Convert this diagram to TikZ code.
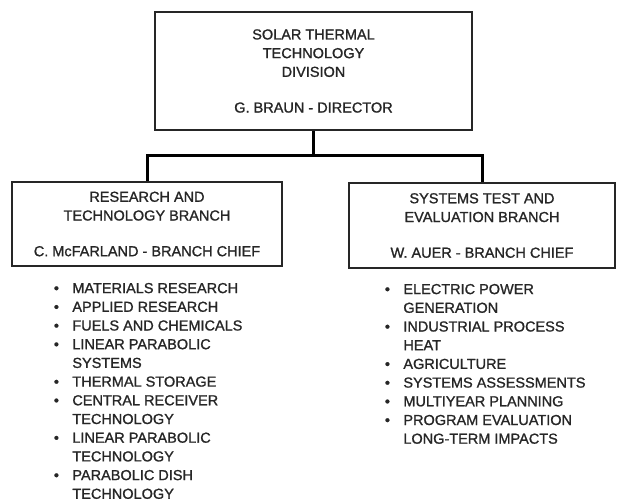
\documentclass[tikz,border=0pt]{standalone}
\usepackage{fontspec}
\setmainfont{Liberation Sans}[FakeBold=1.2]
\usetikzlibrary{positioning}
\newcommand{\itm}[1]{\strut\makebox[18.5pt][l]{\textbullet}#1}
\newcommand{\cnt}[1]{\strut\hspace*{18.5pt}#1}

\begin{document}
\begin{tikzpicture}[x=1pt,y=-1pt]
				\tikzset{block/.style={draw=black!85,line width=1.6pt,align=center,text=black!85,font=\fontsize{14.5}{18.7}\selectfont},
				         list/.style={align=left,inner sep=0pt,text=black!85,font=\fontsize{14.5}{18.7}\selectfont},
				         link/.style={draw=black,line width=3pt}}
				\useasboundingbox (0,0) rectangle (617,499);
				\node [block, minimum width=317pt, minimum height=118pt] (division) at (313.5,71) {SOLAR THERMAL\\TECHNOLOGY\\DIVISION\\[17pt]G. BRAUN - DIRECTOR};
				\node [block, minimum width=270pt, minimum height=84pt] (research) at (147,224) {RESEARCH AND\\TECHNOLOGY BRANCH\\[17pt]C. McFARLAND - BRANCH CHIEF};
				\node [block, minimum width=266pt, minimum height=85pt] (systest) at (482,225.5) {SYSTEMS TEST AND\\EVALUATION BRANCH\\[17pt]W. AUER - BRANCH CHIEF};
				\node [list, below right =13pt and 42.5pt of research.south west] (rtasks) {\itm{MATERIALS RESEARCH}\\\itm{APPLIED RESEARCH}\\\itm{FUELS AND CHEMICALS}\\\itm{LINEAR PARABOLIC}\\\cnt{SYSTEMS}\\\itm{THERMAL STORAGE}\\\itm{CENTRAL RECEIVER}\\\cnt{TECHNOLOGY}\\\itm{LINEAR PARABOLIC}\\\cnt{TECHNOLOGY}\\\itm{PARABOLIC DISH}\\\cnt{TECHNOLOGY}};
				\node [list, below right =12pt and 36.5pt of systest.south west] (stasks) {\itm{ELECTRIC POWER}\\\cnt{GENERATION}\\\itm{INDUSTRIAL PROCESS}\\\cnt{HEAT}\\\itm{AGRICULTURE}\\\itm{SYSTEMS ASSESSMENTS}\\\itm{MULTIYEAR PLANNING}\\\itm{PROGRAM EVALUATION}\\\cnt{LONG-TERM IMPACTS}};
				\coordinate (bus) at ([yshift=-25pt]division.south);
				\path[link] (division.south) -- (bus)
							(research.north) |- (bus) -| (systest.north);
			\end{tikzpicture}
\end{document}
